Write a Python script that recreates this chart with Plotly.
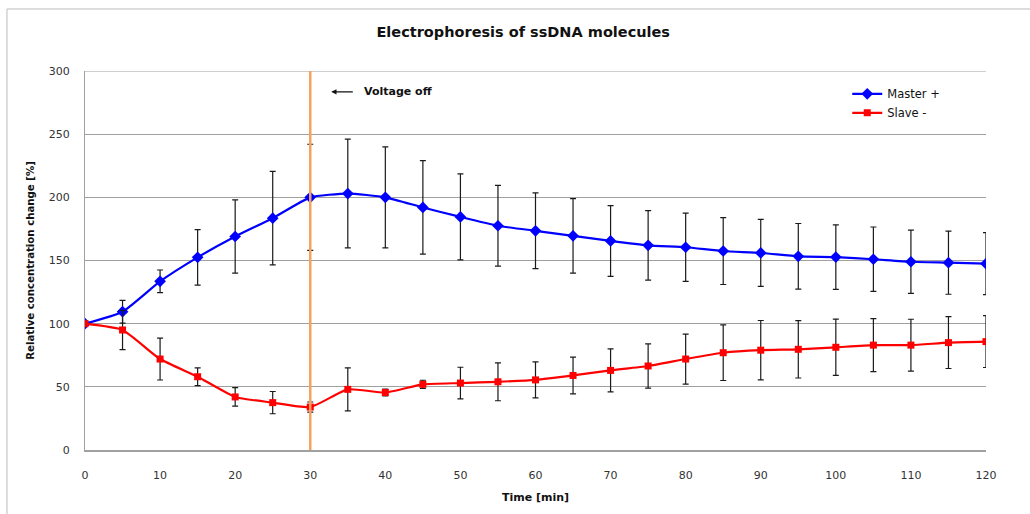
import plotly.graph_objects as go

time_min = [0, 5, 10, 15, 20, 25, 30, 35, 40, 45, 50, 55, 60, 65, 70, 75, 80, 85, 90, 95, 100, 105, 110, 115, 120]

master = [100, 109.5, 133.5, 152.5, 169, 183.5, 200, 203, 200, 192, 184.5, 177.5, 173.5, 169.5, 165.5, 162, 160.5, 157.5, 156, 153.3, 152.7, 151, 149, 148.3, 147.5]
master_err = [0, 9, 9, 22, 29, 37, 42, 43, 40, 37, 34, 32, 30, 29.5, 28, 27.5, 27, 26.5, 26.5, 26, 25.5, 25.5, 25, 25, 24.5]

slave = [100, 95, 72, 58, 42, 37.5, 34, 48, 45.5, 52, 53, 54, 55.5, 59, 63, 66.5, 72, 77, 79, 79.7, 81.3, 83, 83, 85, 85.8]
slave_err = [0, 15.5, 16.6, 7, 7.3, 8.8, 4, 17, 2.7, 3.2, 12.5, 15, 14.3, 14.5, 17, 17.5, 19.8, 22, 23.5, 22.7, 22.3, 21, 20.5, 20.5, 20.5]

voltage_off_time = 30
y_min = 0
y_max = 300

TXT_FONT = "DejaVu Sans"
GRID = "#A0A0A0"

fig = go.Figure()

fig.add_trace(go.Scatter(
    x=time_min, y=master, name="Master +", mode="lines+markers",
    line=dict(color="#0000FF", width=2.2, shape="spline", smoothing=0.5),
    marker=dict(symbol="diamond", size=9, color="#0000FF"),
    error_y=dict(type="data", array=master_err, visible=True, color="#1a1a1a", thickness=1.2, width=3),
))
fig.add_trace(go.Scatter(
    x=time_min, y=slave, name="Slave -", mode="lines+markers",
    line=dict(color="#FF0000", width=2.2, shape="spline", smoothing=0.5),
    marker=dict(symbol="square", size=7, color="#FF0000"),
    error_y=dict(type="data", array=slave_err, visible=True, color="#1a1a1a", thickness=1.2, width=3),
))

# gridline at the range maximum
fig.add_shape(type="line", xref="paper", yref="y", x0=0, x1=1, y0=y_max, y1=y_max,
              line=dict(color=GRID, width=1), layer="below")

# vertical "voltage off" line
fig.add_shape(type="line", xref="x", yref="paper", x0=voltage_off_time, x1=voltage_off_time, y0=0, y1=1,
              line=dict(color="#F5A25F", width=2.5), layer="above")

# outer chart border
fig.add_shape(type="rect", xref="paper", yref="paper", x0=-0.0866, x1=1.07, y0=-0.2, y1=1.1636,
              line=dict(color="#BBBBBB", width=1), layer="below")

# annotation: arrow + text
fig.add_annotation(x=32.8, y=283.5, ax=23, ay=0, axref="pixel", ayref="pixel", text="",
                   showarrow=True, arrowhead=2, arrowsize=0.8, arrowwidth=1.3, arrowcolor="#111111")
fig.add_annotation(x=36.9, y=283.5, text="<b>Voltage off</b>", showarrow=False, xanchor="left",
                   font=dict(family=TXT_FONT, size=11, color="#111111"))

fig.update_layout(
    width=1030, height=514,
    margin=dict(l=85, r=44, t=71, b=64),
    paper_bgcolor="white", plot_bgcolor="white",
    title=dict(text="<b>Electrophoresis of ssDNA molecules</b>", x=0.508, xanchor="center", y=0.938, yanchor="middle",
               font=dict(family=TXT_FONT, size=14.5, color="#111111")),
    showlegend=True,
    legend=dict(x=0.846, y=0.978, xanchor="left", yanchor="top", bgcolor="rgba(0,0,0,0)",
                font=dict(family=TXT_FONT, size=11.5, color="#111111"), itemwidth=30, tracegroupgap=2),
    font=dict(family=TXT_FONT),
)

fig.update_xaxes(range=[0, 120], tickvals=list(range(0, 121, 10)), showgrid=False, zeroline=False,
                 showline=True, linecolor=GRID, linewidth=2, ticks="",
                 tickfont=dict(family=TXT_FONT, size=11, color="#333333"),
                 ticklabelstandoff=14,
                 title=dict(text="<b>Time [min]</b>", font=dict(family=TXT_FONT, size=11, color="#111111"), standoff=12),
                 fixedrange=True)
fig.update_yaxes(range=[y_min, y_max], tickvals=list(range(0, 301, 50)), showgrid=True, gridcolor=GRID, gridwidth=1,
                 zeroline=False,
                 showline=True, linecolor=GRID, linewidth=1, ticks="",
                 tickfont=dict(family=TXT_FONT, size=11, color="#333333"), ticklabelstandoff=12,
                 title=dict(text="<b>Relative concentration change [%]</b>", font=dict(family=TXT_FONT, size=10.2, color="#111111"), standoff=12),
                 fixedrange=True)

fig.write_html("out.html")
